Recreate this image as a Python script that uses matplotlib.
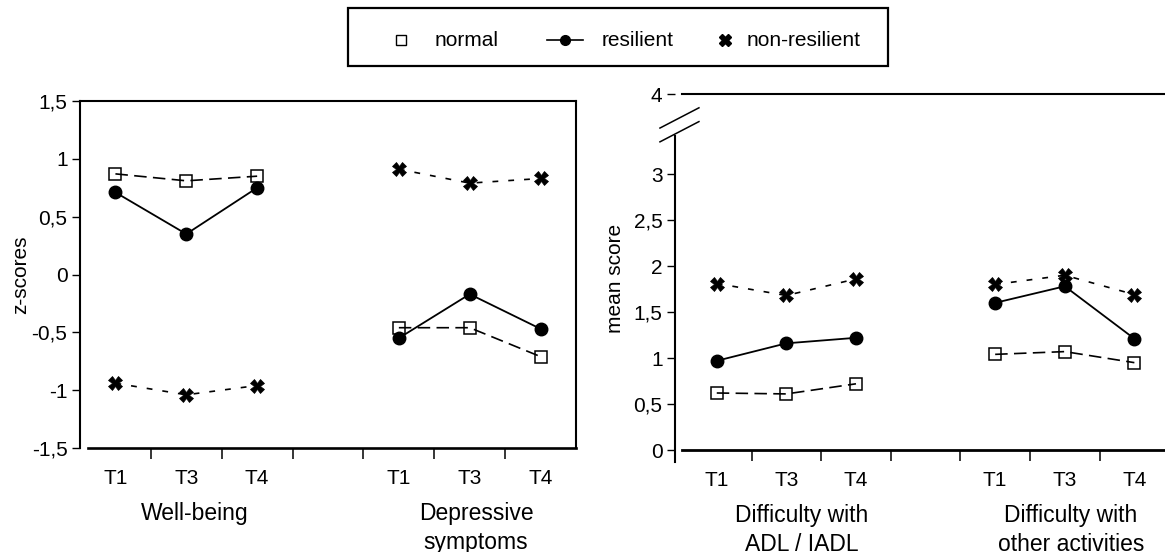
import matplotlib.pyplot as plt
from matplotlib.lines import Line2D
from matplotlib.patches import Rectangle

plt.rcParams['font.family'] = ['Liberation Sans', 'DejaVu Sans']

timepoints = ['T1', 'T3', 'T4']

# z-scores (left panel)
wellbeing_normal = [0.87, 0.81, 0.85]
wellbeing_resilient = [0.71, 0.35, 0.75]
wellbeing_nonres = [-0.94, -1.04, -0.96]
depressive_normal = [-0.46, -0.46, -0.71]
depressive_resilient = [-0.55, -0.17, -0.47]
depressive_nonres = [0.91, 0.79, 0.83]

# mean scores (right panel)
adl_normal = [0.62, 0.61, 0.72]
adl_resilient = [0.97, 1.16, 1.22]
adl_nonres = [1.81, 1.68, 1.86]
other_normal = [1.04, 1.07, 0.95]
other_resilient = [1.60, 1.78, 1.21]
other_nonres = [1.80, 1.90, 1.69]

left_groups = ['Well-being', 'Depressive\nsymptoms']
right_groups = ['Difficulty with\nADL / IADL', 'Difficulty with\nother activities']
left_yticks = [1.5, 1, 0.5, 0, -0.5, -1, -1.5]
right_yticks = [0, 0.5, 1, 1.5, 2, 2.5, 3]

x_first = [0.5, 1.5, 2.5]
x_second = [4.5, 5.5, 6.5]

styles = {
    'normal': dict(color='black', lw=1.2, ls=(0, (7.5, 3.8)), marker='s',
                   ms=8.5, mfc='none', mec='black', mew=1.1),
    'resilient': dict(color='black', lw=1.3, ls='-', marker='o', ms=9,
                      mfc='black', mec='black'),
    'nonres': dict(color='black', lw=1.2, ls=(0, (3.5, 6)), marker='X',
                   ms=9.5, mfc='black', mec='black', mew=0.5),
}


def comma(v):
    return ('%g' % v).replace('.', ',')


def draw_group(ax, xs, normal, resilient, nonres):
    ax.plot(xs, normal, **styles['normal'])
    ax.plot(xs, nonres, **styles['nonres'])
    ax.plot(xs, resilient, **styles['resilient'])


def set_xaxis(ax):
    ax.set_xticks([1, 2, 3, 4, 5, 6])
    ax.set_xticklabels([])
    ax.set_xticks(x_first + x_second, minor=True)
    ax.set_xticklabels(timepoints * 2, minor=True)
    ax.tick_params(axis='x', which='major', direction='out', length=8,
                   width=1.1)
    ax.tick_params(axis='x', which='minor', length=0, pad=15, labelsize=15)
    ax.tick_params(axis='y', direction='out', length=6, width=1.0, pad=3,
                   labelsize=15)


def group_label(ax, x, y, name):
    ax.annotate(name, (x, y), xytext=(0, -39), textcoords='offset points',
                ha='center', va='top', fontsize=16.5, linespacing=1.32,
                annotation_clip=False)


fig = plt.figure(figsize=(11.65, 5.52), dpi=100)

# left panel: z-scores
ax1 = fig.add_axes([80 / 1165, 104 / 552, 496 / 1165, 347 / 552])
draw_group(ax1, x_first, wellbeing_normal, wellbeing_resilient, wellbeing_nonres)
draw_group(ax1, x_second, depressive_normal, depressive_resilient, depressive_nonres)
ax1.set_xlim(0, 7)
ax1.set_ylim(-1.5, 1.5)
ax1.set_yticks(left_yticks)
ax1.set_yticklabels([comma(v) for v in left_yticks])
set_xaxis(ax1)
for s in ax1.spines.values():
    s.set_linewidth(1.5)
ax1.spines['bottom'].set_linewidth(1.9)
ax1.spines['bottom'].set_bounds(0.11, 7)
ax1.set_ylabel('z-scores', fontsize=15, labelpad=1)
for x, name in zip([1.62, 5.59], left_groups):
    group_label(ax1, x, -1.5, name)

# right panel: mean scores with broken y axis
top_pos = 3.87
ax2 = fig.add_axes([675 / 1165, 90 / 552, 490 / 1165, 368 / 552])
draw_group(ax2, x_first, adl_normal, adl_resilient, adl_nonres)
draw_group(ax2, x_second, other_normal, other_resilient, other_nonres)
ax2.set_xlim(-0.1, 6.94)
ax2.set_ylim(-0.13, top_pos)
ax2.set_yticks(right_yticks + [top_pos])
ax2.set_yticklabels([comma(v) for v in right_yticks] + ['4'])
set_xaxis(ax2)
ax2.spines['right'].set_visible(False)
ax2.spines['bottom'].set_position(('data', 0))
ax2.spines['bottom'].set_bounds(0, 6.94)
ax2.spines['bottom'].set_linewidth(2.0)
ax2.spines['top'].set_bounds(0, 6.94)
ax2.spines['top'].set_linewidth(1.5)
ax2.spines['left'].set_bounds(-0.13, 3.41)
ax2.spines['left'].set_linewidth(1.5)
ax2.set_ylabel('mean score', fontsize=15, labelpad=6)
for y0 in [3.50, 3.35]:
    ax2.plot([-0.316, 0.244], [y0, y0 + 0.22], color='black', lw=1.1,
             clip_on=False)
for x, name in zip([1.72, 5.59], right_groups):
    group_label(ax2, x, 0, name)

# legend box
fig.patches.append(Rectangle((348 / 1165, 1 - 66 / 552), 540 / 1165, 58 / 552,
                             transform=fig.transFigure, fill=False,
                             edgecolor='black', lw=1.6))
ly = 1 - 40 / 552
fig.lines.append(Line2D([401 / 1165], [ly], transform=fig.transFigure,
                        marker='s', ms=6.5, mfc='none', mec='black', mew=1.0,
                        ls='none'))
fig.lines.append(Line2D([547 / 1165, 583 / 1165], [ly, ly],
                        transform=fig.transFigure, color='black', lw=1.2))
fig.lines.append(Line2D([565 / 1165], [ly], transform=fig.transFigure,
                        marker='o', ms=7, color='black', ls='none'))
fig.lines.append(Line2D([725 / 1165], [ly], transform=fig.transFigure,
                        marker='X', ms=8, color='black', ls='none'))
for x, label in zip([435, 602, 747], ['normal', 'resilient', 'non-resilient']):
    fig.text(x / 1165, ly, label, ha='left', va='center', fontsize=15)

fig.savefig('out.png', dpi=100, facecolor='white')
